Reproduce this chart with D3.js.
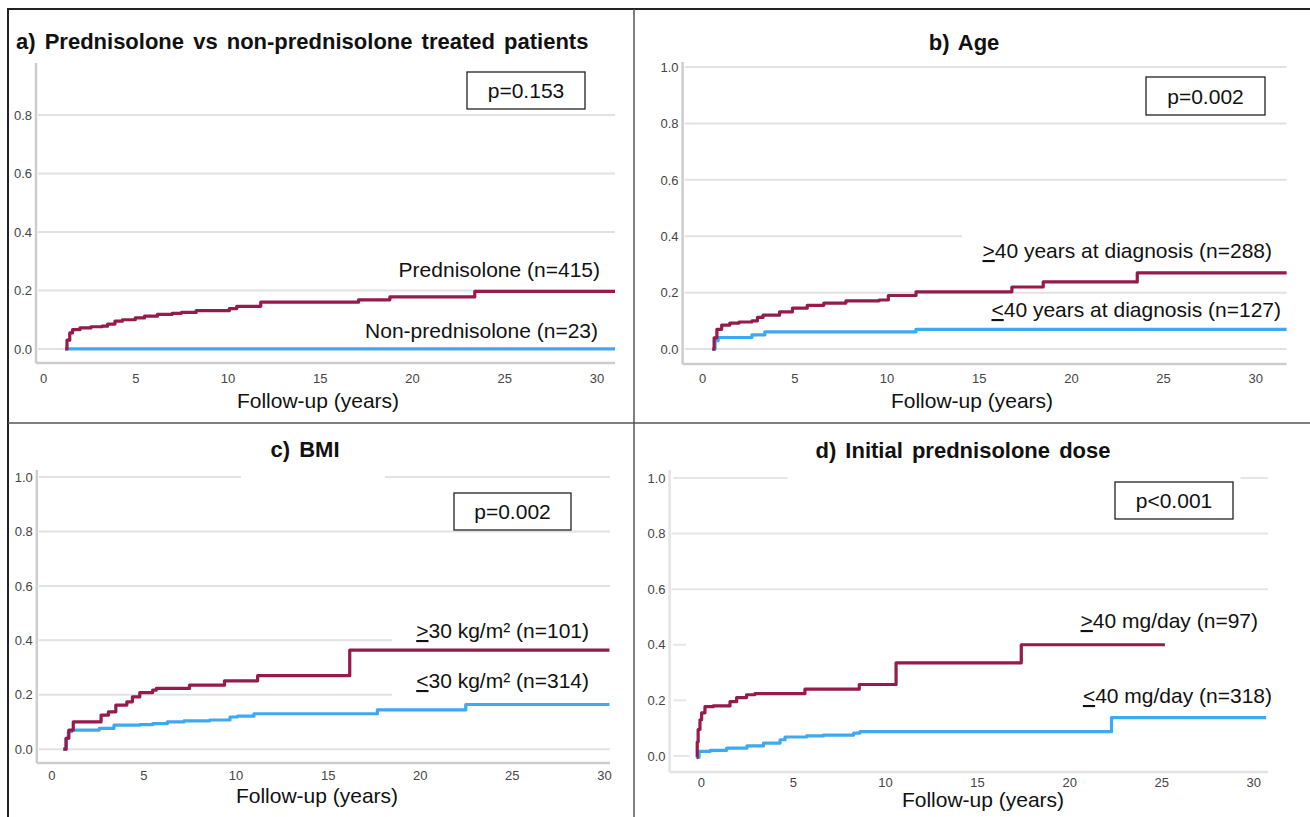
<!DOCTYPE html>
<html>
<head>
<meta charset="utf-8">
<script src="https://cdn.jsdelivr.net/npm/d3@7"></script>
<style>
  html, body { margin: 0; padding: 0; background: #fff; }
  svg { display: block; font-family: "Liberation Sans", Arial, sans-serif; }
  .tick text { fill: #444; font-size: 13px; font-family: "Liberation Sans", Arial, sans-serif; }
</style>
</head>
<body>
<svg id="chart" width="1310" height="817"></svg>
<script>
// ---- data (years, cumulative incidence) ----
const xTicks = [0, 5, 10, 15, 20, 25, 30];
const yTicks = [0, 0.2, 0.4, 0.6, 0.8, 1.0];

const prednisolone = [[1.2,0],[1.3,0.03],[1.45,0.055],[1.6,0.066],[2.0,0.072],[2.6,0.076],[3.2,0.078],[3.5,0.085],[3.9,0.095],[4.3,0.1],[5.0,0.106],[5.5,0.112],[6.2,0.118],[7.0,0.122],[7.5,0.125],[8.3,0.131],[10.1,0.138],[10.5,0.146],[11.8,0.16],[17.1,0.168],[18.8,0.178],[23.4,0.197],[31.0,0.197]];
const nonPrednisolone = [[1.2,0],[31.0,0]];

const ageOver40 = [[0.55,0],[0.65,0.04],[0.8,0.07],[1.06,0.085],[1.5,0.092],[2.0,0.096],[2.7,0.1],[3.0,0.112],[3.3,0.12],[4.2,0.132],[4.9,0.145],[5.7,0.155],[6.6,0.163],[7.8,0.171],[9.6,0.174],[10.1,0.19],[11.6,0.203],[16.8,0.22],[18.5,0.238],[23.6,0.27],[31.7,0.27]];
const ageUnder40 = [[0.55,0],[0.7,0.03],[0.87,0.041],[2.7,0.05],[3.4,0.061],[11.6,0.07],[31.7,0.07]];

const bmiOver30 = [[0.65,0],[0.8,0.04],[0.95,0.07],[1.19,0.1],[2.7,0.125],[3.1,0.137],[3.5,0.162],[4.1,0.174],[4.4,0.192],[4.8,0.208],[5.5,0.217],[5.7,0.223],[7.5,0.235],[9.4,0.251],[11.2,0.27],[16.2,0.364],[30.3,0.364]];
const bmiUnder30 = [[0.65,0],[0.8,0.04],[0.92,0.064],[1.1,0.07],[2.6,0.076],[3.4,0.088],[4.8,0.09],[5.5,0.094],[6.3,0.1],[7.2,0.104],[8.6,0.107],[9.7,0.118],[10.1,0.121],[11.0,0.13],[17.7,0.144],[22.5,0.164],[30.3,0.164]];

const doseOver40 = [[-0.23,-0.005],[-0.2,0.05],[-0.15,0.095],[-0.05,0.13],[0.04,0.155],[0.22,0.177],[0.67,0.18],[1.58,0.195],[1.94,0.21],[2.48,0.22],[2.93,0.224],[5.65,0.24],[8.6,0.257],[10.6,0.335],[17.4,0.4],[25.2,0.4]];
const doseUnder40 = [[-0.23,-0.005],[-0.1,0.016],[0.5,0.02],[1.4,0.028],[2.5,0.036],[3.4,0.046],[4.3,0.058],[4.57,0.068],[5.74,0.072],[6.65,0.075],[8.3,0.082],[8.64,0.087],[22.3,0.138],[30.7,0.138]];

const pValues = ["p=0.153", "p=0.002", "p=0.002", "p<0.001"];

const RED = "#961a4b", BLUE = "#3ea9f1";

// ---- panel layout ----
const panels = [
  { title: "a) Prednisolone vs non-prednisolone treated patients", titleAnchor: "start", titleX: 16, titleY: 49,
    xDom: [-0.38, 31.0], xPx: [36, 615], yDom: [-0.048, 0.978], yPx: [363, 63], tickPad: 11,
    pBox: [467, 72, 118, 37], axisTitle: [318, 408],
    series: [
      { data: prednisolone, color: RED, label: ["", "Prednisolone (n=415)"], lx: 600, ly: 277 },
      { data: nonPrednisolone, color: BLUE, label: ["", "Non-prednisolone (n=23)"], lx: 598, ly: 338 }
    ], grid: {} },
  { title: "b) Age", titleAnchor: "middle", titleX: 964, titleY: 50,
    xDom: [-1.06, 31.7], xPx: [682.6, 1286.6], yDom: [-0.053, 1.018], yPx: [364, 62], tickPad: 10,
    pBox: [1146, 77, 119, 38], axisTitle: [972, 408],
    series: [
      { data: ageOver40, color: RED, label: [">", "40 years at diagnosis (n=288)"], lx: 1272, ly: 258 },
      { data: ageUnder40, color: BLUE, label: ["<", "40 years at diagnosis (n=127)"], lx: 1281, ly: 317 }
    ], grid: { 0.4: [[-1.06, 14.1]] } },
  { title: "c) BMI", titleAnchor: "middle", titleX: 305, titleY: 457,
    xDom: [-0.79, 30.33], xPx: [36.8, 610], yDom: [-0.051, 1.026], yPx: [763, 470], tickPad: 8,
    pBox: [454, 493, 117, 37], axisTitle: [317, 803],
    series: [
      { data: bmiOver30, color: RED, label: [">", "30 kg/m\u00b2 (n=101)"], lx: 589, ly: 638 },
      { data: bmiUnder30, color: BLUE, label: ["<", "30 kg/m\u00b2 (n=314)"], lx: 589, ly: 688 }
    ], grid: { 1.0: [[-0.79, 10.3], [18.0, 30.33]], 0.4: [[-0.79, 18.5]], 0.2: [[-0.79, 18.5]] } },
  { title: "d) Initial prednisolone dose", titleAnchor: "middle", titleX: 963, titleY: 458,
    xDom: [-1.7, 30.8], xPx: [669.6, 1268], yDom: [-0.058, 1.029], yPx: [772, 470], tickPad: 6, faint: true,
    pBox: [1115, 482, 118, 37], axisTitle: [983, 807],
    series: [
      { data: doseOver40, color: RED, label: [">", "40 mg/day (n=97)"], lx: 1258, ly: 628 },
      { data: doseUnder40, color: BLUE, label: ["<", "40 mg/day (n=318)"], lx: 1272, ly: 703 }
    ], grid: { 1.0: [[-1.6, 4.7], [29.2, 30.8]], 0.4: [[-1.6, -0.8]], 0.2: [[-1.6, -0.8]], 0: [[-1.6, -0.6]] } }
];

const svg = d3.select("#chart");

// frame round the four panels
const frame = svg.append("g").attr("fill", "none");
frame.append("path").attr("d", "M8,817V9H1310").attr("stroke", "#222").attr("stroke-width", 2);
frame.append("line").attr("x1", 634).attr("x2", 634).attr("y1", 9).attr("y2", 817).attr("stroke", "#555").attr("stroke-width", 1.5);
frame.append("line").attr("x1", 8).attr("x2", 1310).attr("y1", 423).attr("y2", 423).attr("stroke", "#555").attr("stroke-width", 1.5);

panels.forEach((p, i) => {
  const x = d3.scaleLinear().domain(p.xDom).range(p.xPx);
  const y = d3.scaleLinear().domain(p.yDom).range(p.yPx);
  const g = svg.append("g");
  const axisColor = p.faint ? "#e4e4e4" : "#cdcdcd";

  // gridlines
  yTicks.filter(v => v <= p.yDom[1]).forEach(v => {
    const segs = p.grid[v] || [p.xDom];
    segs.forEach(s => {
      g.append("line")
        .attr("x1", x(s[0]) + 2).attr("x2", x(s[1]))
        .attr("y1", y(v)).attr("y2", y(v))
        .attr("stroke", p.faint ? "#e6e6e6" : "#e2e2e2").attr("stroke-width", 2);
    });
  });

  // axes
  const yAxis = g.append("g").attr("transform", `translate(${p.xPx[0]},0)`)
    .call(d3.axisLeft(y).tickValues(yTicks.filter(v => v <= p.yDom[1])).tickFormat(d3.format(".1f")).tickSize(0).tickPadding(4));
  yAxis.select(".domain").remove();
  const xAxis = g.append("g").attr("transform", `translate(0,${p.yPx[0]})`)
    .call(d3.axisBottom(x).tickValues(xTicks).tickSize(0).tickPadding(p.tickPad));
  xAxis.select(".domain").remove();

  g.append("line").attr("x1", p.xPx[0]).attr("x2", p.xPx[0]).attr("y1", p.yPx[0]).attr("y2", p.yPx[1])
    .attr("stroke", axisColor).attr("stroke-width", 2.5);
  g.append("line").attr("x1", p.xPx[0]).attr("x2", p.xPx[1]).attr("y1", p.yPx[0]).attr("y2", p.yPx[0])
    .attr("stroke", axisColor).attr("stroke-width", 2.5);

  // curves (drawn blue first so red sits on top)
  const line = d3.line().x(d => x(d[0])).y(d => y(d[1])).curve(d3.curveStepAfter);
  p.series.slice().reverse().forEach(s => {
    g.append("path").datum(s.data)
      .attr("fill", "none").attr("stroke", s.color).attr("stroke-width", 3.2)
      .attr("stroke-linejoin", "round").attr("d", line);
  });

  // series labels
  p.series.forEach(s => {
    const t = g.append("text").attr("x", s.lx).attr("y", s.ly)
      .attr("text-anchor", "end").attr("font-size", 21).attr("fill", "#111");
    if (s.label[0]) t.append("tspan").attr("text-decoration", "underline").text(s.label[0]);
    t.append("tspan").text(s.label[1]);
  });

  // p-value box
  const b = p.pBox;
  g.append("rect").attr("x", b[0]).attr("y", b[1]).attr("width", b[2]).attr("height", b[3])
    .attr("fill", "#fff").attr("stroke", "#222").attr("stroke-width", 1.3);
  g.append("text").attr("x", b[0] + b[2] / 2).attr("y", b[1] + b[3] / 2 + 7.5)
    .attr("text-anchor", "middle").attr("font-size", 21).attr("fill", "#111").text(pValues[i]);

  // titles
  g.append("text").attr("x", p.titleX).attr("y", p.titleY).attr("text-anchor", p.titleAnchor)
    .attr("font-size", 22).attr("font-weight", "bold").attr("word-spacing", 3).attr("fill", "#111")
    .text(p.title);
  g.append("text").attr("x", p.axisTitle[0]).attr("y", p.axisTitle[1]).attr("text-anchor", "middle")
    .attr("font-size", 21).attr("fill", "#111").text("Follow-up (years)");
});
</script>
</body>
</html>
